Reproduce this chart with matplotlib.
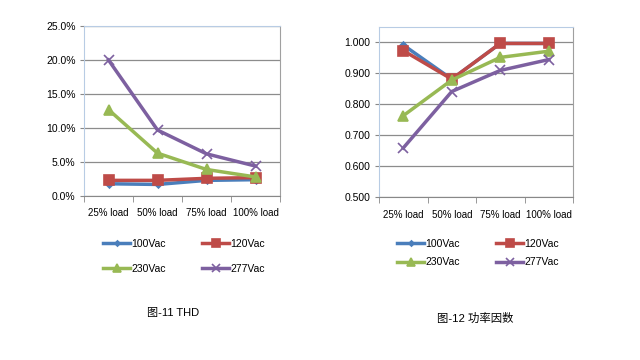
import matplotlib.pyplot as plt
import numpy as np
from matplotlib.ticker import FuncFormatter

plt.rcParams['font.family'] = ['Liberation Sans', 'Noto Sans CJK SC']

loads = ["25% load", "50% load", "75% load", "100% load"]
series = ["100Vac", "120Vac", "230Vac", "277Vac"]

# THD in percent
thd_100 = [1.8, 1.7, 2.3, 2.4]
thd_120 = [2.3, 2.3, 2.6, 2.7]
thd_230 = [12.7, 6.3, 3.9, 2.8]
thd_277 = [20.0, 9.7, 6.2, 4.4]

# power factor
pf_100 = [0.990, 0.880, 0.995, 0.995]
pf_120 = [0.972, 0.880, 0.995, 0.995]
pf_230 = [0.762, 0.877, 0.950, 0.970]
pf_277 = [0.658, 0.840, 0.908, 0.943]

colors = ["#4A7EBB", "#BE4B48", "#98B954", "#7D60A0"]
markers = ["D", "s", "^", "x"]
msizes = [3.5, 7, 7, 7]

fig = plt.figure(figsize=(6.4, 3.6), dpi=100)
W, H = 640, 360


def make_axes(l, t, r, b):
    return fig.add_axes([l / W, 1 - b / H, (r - l) / W, (b - t) / H])


def style(ax, ticks, fmt, ylim):
    x = np.arange(len(loads))
    ax.set_xlim(-0.5, len(loads) - 0.5)
    ax.set_ylim(*ylim)
    ax.set_yticks(ticks)
    ax.yaxis.set_major_formatter(FuncFormatter(fmt))
    ax.set_xticks(x)
    ax.set_xticklabels(loads)
    ax.set_xticks(np.arange(len(loads) + 1) - 0.5, minor=True)
    ax.tick_params(axis='x', which='major', length=0, pad=9, labelsize=7)
    ax.tick_params(axis='x', which='minor', length=4, color='#888888', direction='out')
    ax.tick_params(axis='y', length=3, color='#888888', labelsize=7.5, pad=3)
    ax.grid(axis='y', color='#8c8c8c', linewidth=0.9)
    ax.set_axisbelow(True)
    for s in ['left', 'top']:
        ax.spines[s].set_color('#b8cce4')
    ax.spines['right'].set_color('#a0a0a0')
    ax.spines['bottom'].set_color('#888888')


def draw(ax, data):
    lines = []
    for vals, c, m, ms, lab in zip(data, colors, markers, msizes, series):
        ln, = ax.plot(range(len(loads)), vals, color=c, marker=m, ms=ms, lw=2.5,
                      label=lab, mew=1.2)
        lines.append(ln)
    return lines


def add_legend(lines, x0, y0, spacing):
    # row-major order like the original: 100/120 on top, 230/277 below
    order = [0, 2, 1, 3]
    fig.legend([lines[i] for i in order], [series[i] for i in order],
               loc='upper left', bbox_to_anchor=(x0 / W, 1 - y0 / H), ncol=2,
               frameon=False, fontsize=7.5, columnspacing=3.5, handlelength=2.6,
               handletextpad=0.1, labelspacing=spacing, borderpad=0,
               borderaxespad=0, markerscale=0.75)


ax1 = make_axes(84, 26, 280, 196)
l1 = draw(ax1, [thd_100, thd_120, thd_230, thd_277])
style(ax1, np.arange(0, 26, 5), lambda v, p: f"{v:.1f}%", (0, 25))
add_legend(l1, 103, 239, 1.4)

ax2 = make_axes(379, 27, 573, 197)
l2 = draw(ax2, [pf_100, pf_120, pf_230, pf_277])
style(ax2, np.arange(0.5, 1.01, 0.1), lambda v, p: f"{v:.3f}", (0.5, 1.048))
add_legend(l2, 397, 239, 0.8)

fig.text(173 / W, 1 - 313 / H, "图-11 THD", fontsize=8, ha='center', va='center')
fig.text(475 / W, 1 - 318 / H, "图-12 功率因数", fontsize=8.2, ha='center', va='center')

fig.savefig("out.png", dpi=100)
